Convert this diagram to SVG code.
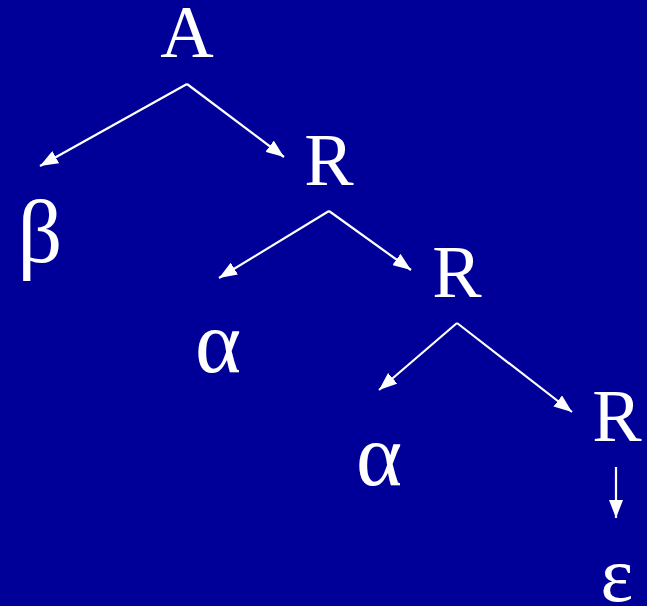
<svg xmlns="http://www.w3.org/2000/svg" width="647" height="606" viewBox="0 0 647 606">
<style>
.t{font-family:"Liberation Serif","Times New Roman",serif;font-size:74px;fill:#fff;text-anchor:middle}
.g{font-size:88px}
.e{font-size:78px}
.c{stroke:#fff;stroke-width:2.2;fill:none;marker-end:url(#ah)}
</style>
<defs>
<marker id="ah" viewBox="0 0 18 14" refX="18" refY="7" markerWidth="18" markerHeight="14" markerUnits="userSpaceOnUse" orient="auto">
<path d="M0,0 L18,7 L0,14 Z" fill="#fff"/>
</marker>
</defs>
<rect width="647" height="606" fill="#000099"/>
<g id="connectors">
<path class="c" d="M187,84 L40,166"/>
<path class="c" d="M187,84 L284,157"/>
<path class="c" d="M329,211 L219,278"/>
<path class="c" d="M329,211 L411,270"/>
<path class="c" d="M457,323 L379,390"/>
<path class="c" d="M457,323 L572,412"/>
<path class="c" d="M616,467 L616,518"/>
</g>
<g id="nA"><text class="t" x="187" y="57">A</text></g>
<g id="nBeta"><text class="t g" x="40" y="262">β</text></g>
<g id="nR1"><text class="t" x="329" y="185">R</text></g>
<g id="nAlpha1"><text class="t g" x="218" y="372">α</text></g>
<g id="nR2"><text class="t" x="457" y="297">R</text></g>
<g id="nAlpha2"><text class="t g" x="379" y="485">α</text></g>
<g id="nR3"><text class="t" x="617" y="441">R</text></g>
<g id="nEps"><text class="t e" x="617" y="601">ε</text></g>
</svg>
